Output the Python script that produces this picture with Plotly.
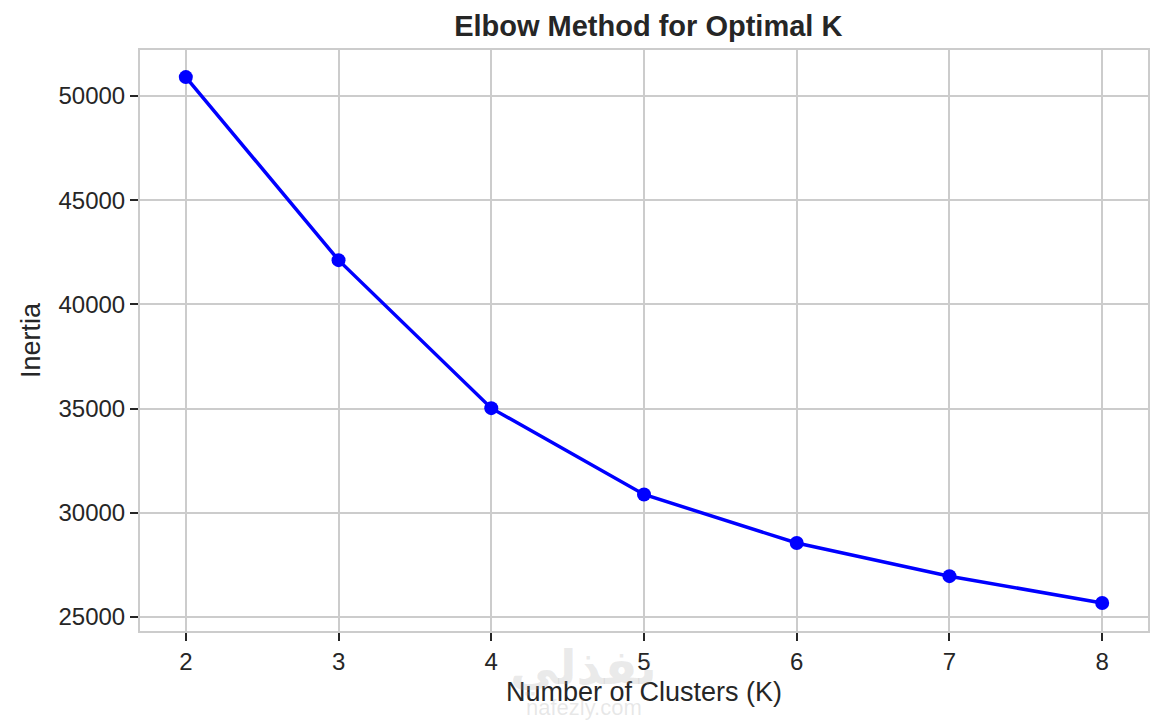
import plotly.graph_objects as go

# Elbow curve data
k_values = [2, 3, 4, 5, 6, 7, 8]
inertia = [50900, 42120, 35020, 30880, 28550, 26960, 25670]

y_ticks = [25000, 30000, 35000, 40000, 45000, 50000]

font_family = "Liberation Sans, Arial, sans-serif"
grid_color = "#cccccc"

fig = go.Figure()

fig.add_trace(go.Scatter(
    x=k_values, y=inertia, mode="lines+markers",
    line=dict(color="#0000ff", width=3.5),
    marker=dict(color="#0000ff", size=14),
    showlegend=False,
))

# Watermark
fig.add_annotation(x=0.44, y=-0.063, xref="paper", yref="paper", yanchor="middle",
                   text="<b>نفذلي</b>", showarrow=False,
                   font=dict(size=48, color="rgba(160,160,160,0.22)", family="DejaVu Sans"))
fig.add_annotation(x=0.44, y=-0.132, xref="paper", yref="paper", yanchor="middle",
                   text="nafezly.com", showarrow=False,
                   font=dict(size=22, color="rgba(160,160,160,0.25)", family=font_family))

fig.update_layout(
    width=1162, height=714,
    margin=dict(l=132, r=22, t=42, b=91),
    plot_bgcolor="white", paper_bgcolor="white",
    title=dict(text="<b>Elbow Method for Optimal K</b>", x=0.551, xanchor="center",
               y=0.975, yanchor="middle",
               font=dict(size=29, color="#262626", family=font_family)),
    font=dict(family=font_family, color="#262626"),
    xaxis=dict(
        range=[1.7, 8.3], tickvals=k_values, showgrid=True, gridcolor=grid_color,
        gridwidth=1.5, zeroline=False, showline=True, linecolor=grid_color,
        linewidth=2, mirror=True, ticks="outside", ticklen=8, tickwidth=2,
        tickcolor="#262626", tickfont=dict(size=24),
        title=dict(text="Number of Clusters (K)", font=dict(size=27), standoff=8),
    ),
    yaxis=dict(
        range=[24330, 52200], tickvals=y_ticks, showgrid=True, gridcolor=grid_color,
        gridwidth=1.5, zeroline=False, showline=True, linecolor=grid_color,
        linewidth=2, mirror=True, ticks="outside", ticklen=8, tickwidth=2,
        tickcolor="#262626", tickfont=dict(size=24), tickformat="d",
        title=dict(text="Inertia", font=dict(size=27), standoff=10),
    ),
)

fig.write_html("out.html")
